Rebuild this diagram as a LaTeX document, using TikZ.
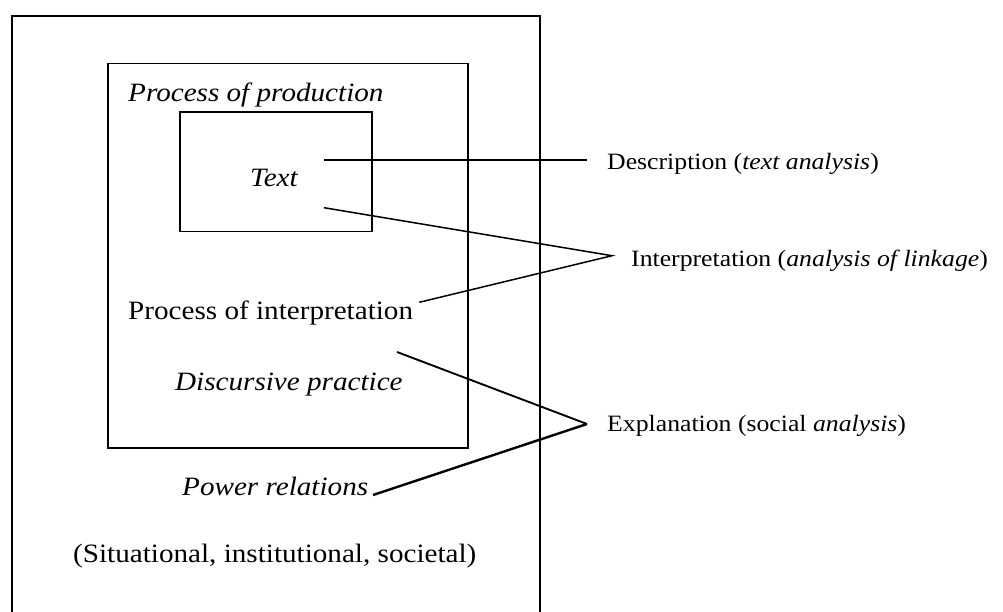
\documentclass[tikz,border=0pt]{standalone}
\usepackage{fontspec}
\setmainfont{Liberation Serif}[FakeStretch=1.1]
\begin{document}
\begin{tikzpicture}[x=1pt,y=-1pt,
  box/.style={draw=black,line width=1.5pt},
  conn/.style={draw=black,line width=1.5pt},
  thickconn/.style={draw=black,line width=2.4pt},
  bigtxt/.style={inner sep=0pt,anchor=base west,font=\fontsize{26.5}{30}\selectfont},
  smalltxt/.style={inner sep=0pt,anchor=base west,font=\fontsize{23.4}{27}\selectfont}]
\clip (0,0) rectangle (1003,612);
\fill[white] (0,0) rectangle (1003,612);
% boxes
\draw[box] (11.8,16) rectangle (540,630);
\draw[box] (108,63.7) rectangle (468,448);
\draw[box] (180,112) rectangle (372,231.7);
% texts
\node[bigtxt] (prod) at (128,102) {\itshape Process of production};
\node[bigtxt] (text) at (250,187) {\itshape Text};
\node[bigtxt] (interp) at (128,319) {Process of interpretation};
\node[bigtxt] (disc) at (175,390) {\itshape Discursive practice};
\node[bigtxt] (power) at (182,495) {\itshape Power relations};
\node[bigtxt] (situ) at (73,562) {(Situational, institutional, societal)};
\node[smalltxt] (desc) at (607,170) {Description (\textit{text analysis})};
\node[smalltxt] (interpl) at (631,266) {Interpretation (\textit{analysis of linkage})};
\node[smalltxt] (expl) at (607,431) {Explanation (social \textit{analysis})};
% connector ends
\coordinate (d1) at (324,160);
\coordinate (d2) at (587,160);
\coordinate (i1) at (324,207.7);
\coordinate (i2) at (419.3,302.3);
\coordinate (ia) at (612,255.7);
\coordinate (e1) at (397,352);
\coordinate (e2) at (373,495);
\coordinate (ea) at (587,424);
\draw[conn] (d1) -- (d2);
\draw[conn] (i1) -- (ia) -- (i2);
\draw[conn,line width=1.9pt] (e1) -- (ea);
\draw[thickconn] (ea) -- (e2);
\end{tikzpicture}
\end{document}
